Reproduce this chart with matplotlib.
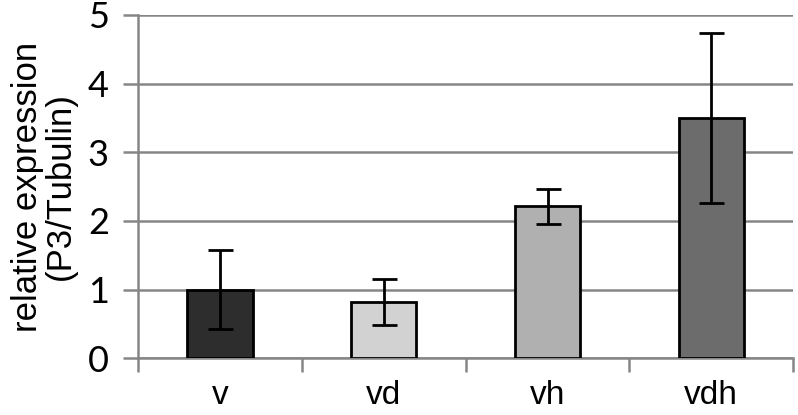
import matplotlib.pyplot as plt
import numpy as np

# values
groups = ['v', 'vd', 'vh', 'vdh']
expression = [1.00, 0.82, 2.21, 3.50]
errors = [0.58, 0.33, 0.26, 1.24]
bar_colors = ['#2d2d2d', '#d2d2d2', '#b0b0b0', '#6c6c6c']
yticks = [0, 1, 2, 3, 4, 5]

fig = plt.figure(figsize=(7.98, 4.15), dpi=100)
ax = fig.add_axes([0.173, 0.137, 0.821, 0.827])

x = np.arange(len(groups))
ax.bar(x, expression, width=0.4, color=bar_colors, edgecolor='black', linewidth=2, zorder=3)
ax.errorbar(x, expression, yerr=errors, fmt='none', ecolor='black', elinewidth=2, capsize=9, capthick=2, zorder=4)

ax.set_xlim(-0.5, len(groups) - 0.5)
ax.set_ylim(0, 5)
ax.set_yticks(yticks, labels=[str(t) for t in yticks], fontsize=26, fontfamily='Lato')
ax.yaxis.grid(True, color='#868686', linewidth=1.8, zorder=0)
ax.tick_params(axis='y', length=11, width=1.8, color='#868686', pad=10)

# category separators on x axis
ax.set_xticks(np.arange(-0.5, len(groups), 1.0))
ax.set_xticklabels([])
ax.set_xticks(x, minor=True)
ax.set_xticklabels(groups, minor=True, fontsize=24, family='Liberation Sans')
ax.tick_params(axis='x', which='major', length=10, width=1.8, color='#868686', direction='out')
ax.tick_params(axis='x', which='minor', length=0, pad=16)

for side in ['top', 'right']:
    ax.spines[side].set_visible(False)
for side in ['left', 'bottom']:
    ax.spines[side].set_color('#868686')
    ax.spines[side].set_linewidth(1.8)

ax.set_ylabel('relative expression\n(P3/Tubulin)', fontsize=25, family='Liberation Sans', linespacing=1.0, labelpad=8)

fig.savefig('out.png', dpi=100)
